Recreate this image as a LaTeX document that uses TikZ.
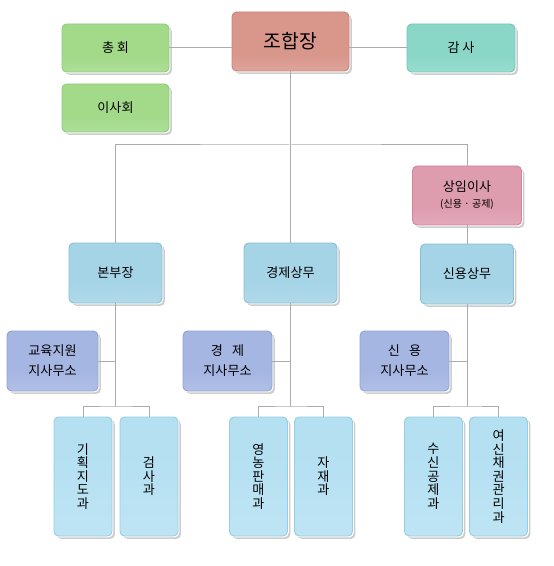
\documentclass[tikz,border=0pt]{standalone}
\usepackage{fontspec}
\setmainfont{Noto Sans CJK KR}
\usetikzlibrary{shadows}
\definecolor{R}{HTML}{D9968B}\definecolor{RD}{HTML}{C98377}
\definecolor{G}{HTML}{A2DA8A}\definecolor{GD}{HTML}{8FCB7B}
\definecolor{T}{HTML}{8AD7C8}\definecolor{TD}{HTML}{74C8B8}
\definecolor{P}{HTML}{DE9CAF}\definecolor{PD}{HTML}{D2849A}
\definecolor{B}{HTML}{A6D4E7}\definecolor{BD}{HTML}{88BFD6}
\definecolor{L}{HTML}{A6B6E2}\definecolor{LD}{HTML}{8FA3D6}
\definecolor{C}{HTML}{B4E0F2}\definecolor{CD}{HTML}{95CDE3}
\newcommand\mkgloss[2]{\pgfdeclareverticalshading{gloss#1}{100bp}{color(0bp)=(#2!65!white); color(40bp)=(#2); color(76bp)=(#2); color(90bp)=(#2!60!white); color(100bp)=(#2!10!white)}}
\mkgloss{R}{R}\mkgloss{G}{G}\mkgloss{T}{T}\mkgloss{P}{P}\mkgloss{B}{B}\mkgloss{L}{L}
\pgfdeclareverticalshading{glossC}{100bp}{color(0bp)=(C!75!white); color(60bp)=(C); color(86bp)=(C); color(94bp)=(C!60!white); color(100bp)=(C!10!white)}
\tikzset{
  bx/.style={rounded corners=3.5pt, draw=#1D, line width=0.7pt, shading=gloss#1,
    inner sep=0pt, align=center, font=\fontsize{9.8}{15}\selectfont,
    general shadow={fill=black, opacity=0.2, shadow xshift=2.2pt, shadow yshift=-2.2pt},
    general shadow={fill=white, shadow xshift=1pt, shadow yshift=-1pt}},
  sz/.style 2 args={minimum width=#1*0.75pt, minimum height=#2*0.75pt},
  vt/.style={font=\fontsize{9.8}{10.2}\selectfont},
  ln/.style={draw=black!33, line width=0.75pt}
}
\begin{document}
\begin{tikzpicture}[x=0.75pt,y=-0.75pt]
\useasboundingbox (0,0) rectangle (553,566);
\fill[white] (0,0) rectangle (553,566);
% nodes
\node[bx=R, sz={117}{59}, font=\fontsize{14.5}{16}\selectfont] (jhj) at (290.5,41.5) {조합장};
\node[bx=G, sz={107}{48}] (chong) at (115.5,48) {총 회};
\node[bx=G, sz={107}{48}] (isa) at (115.5,108) {이사회};
\node[bx=T, sz={108}{48}] (gamsa) at (461,48) {감 사};
\node[bx=P, sz={109}{59}] (sangim) at (467,195.5) {상임이사\\[-3pt]{\fontsize{7.5}{9}\selectfont (신용 · 공제)}};
\node[bx=B, sz={93}{60}] (bonbu) at (115.5,273) {본부장};
\node[bx=B, sz={93}{60}] (gyeong) at (290.5,273) {경제상무};
\node[bx=B, sz={93}{60}] (sinyong) at (467,274) {신용상무};
\node[bx=L, sz={91}{60}] (ji1) at (52.5,361) {교육지원\\지사무소};
\node[bx=L, sz={89}{60}] (ji2) at (227.5,361) {경\hspace{0.7em}제\\지사무소};
\node[bx=L, sz={89}{60}] (ji3) at (404.5,361) {신\hspace{0.7em}용\\지사무소};
\node[bx=C, sz={58}{119}, vt] (b1) at (83,476.5) {기\\획\\지\\도\\과};
\node[bx=C, sz={58}{119}, vt] (b2) at (149,476.5) {검\\사\\과};
\node[bx=C, sz={58}{119}, vt] (b3) at (258.5,476.5) {영\\농\\판\\매\\과};
\node[bx=C, sz={58}{119}, vt] (b4) at (323.5,476.5) {자\\재\\과};
\node[bx=C, sz={58}{119}, vt] (b5) at (433.5,476.5) {수\\신\\공\\제\\과};
\node[bx=C, sz={58}{119}, vt] (b6) at (498.5,476.5) {여\\신\\채\\권\\관\\리\\과};
% coordinates
\coordinate (top) at (290.5,145);
\coordinate (s1) at (116,406);
\coordinate (s2) at (291,406);
\coordinate (s3) at (466,406);
% connectors
\path[ln] (chong.east) -- (chong.east -| jhj.west);
\path[ln] (gamsa.west) -- (gamsa.west -| jhj.east);
\path[ln] (jhj.south) -- (gyeong.north);
\path[ln] (bonbu.north) |- (top) -| (sangim.north);
\path[ln] (sangim.south) -- (sinyong.north);
\path[ln] (bonbu.south) -- (bonbu.south |- s1);
\path[ln] (gyeong.south) -- (gyeong.south |- s2);
\path[ln] (sinyong.south) -- (sinyong.south |- s3);
\path[ln] (ji1.east) -- (ji1.east -| bonbu.south);
\path[ln] (ji2.east) -- (ji2.east -| gyeong.south);
\path[ln] (ji3.east) -- (ji3.east -| sinyong.south);
\path[ln] (b1.north) |- (s1) -| (b2.north);
\path[ln] (b3.north) |- (s2) -| (b4.north);
\path[ln] (b5.north) |- (s3) -| (b6.north);
\end{tikzpicture}
\end{document}
